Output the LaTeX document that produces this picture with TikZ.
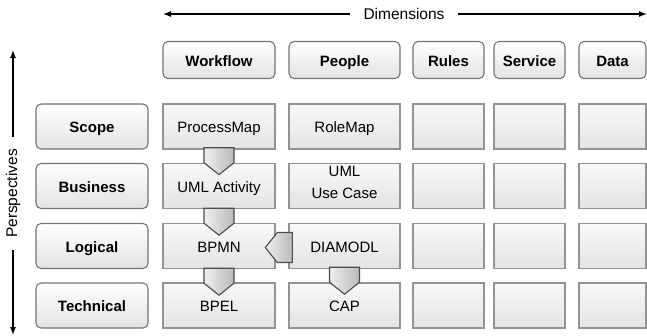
\documentclass[tikz,border=0pt]{standalone}
\usepackage{fontspec}
\setmainfont{Liberation Sans}
\usetikzlibrary{arrows.meta}
\tikzset{
  hdr/.style={draw=gray!90!black, line width=1.1pt, rounded corners=5pt,
    top color=white, bottom color=gray!22, inner sep=0pt,
    text height=14pt, text depth=1.3pt,
    minimum height=37pt, font=\fontsize{15}{18}\selectfont\bfseries},
  lbl/.style={hdr, minimum width=112pt, minimum height=45pt},
  cell/.style={draw=gray!85, line width=1.4pt, top color=gray!5,
    bottom color=gray!22, inner sep=0pt, minimum height=45pt,
    text height=14pt, text depth=1.3pt,
    align=center, font=\fontsize{15}{22}\selectfont},
  axis/.style={line width=1.3pt, -{Latex[length=8pt,width=6pt]}},
  chev/.pic={
    \draw[draw=gray!60!black, line width=1.1pt, left color=gray!12, right color=gray!55]
      (-15,0) -- (15,0) -- (15,15) -- (0,27) -- (-15,15) -- cycle;
  }
}
\begin{document}
\begin{tikzpicture}[x=1pt,y=-1pt]
\useasboundingbox (0,0) rectangle (647,335);
% axes
\node (dimlbl) [inner sep=0pt, minimum width=108pt, font=\fontsize{15.5}{18}\selectfont] at (404,14) {Dimensions};
\coordinate (dimL) at (163,14);
\coordinate (dimR) at (647,14);
\draw[axis] (dimlbl.west) -- (dimL);
\draw[axis] (dimlbl.east) -- (dimR);
\node (persp) [rotate=90, inner sep=0pt, minimum width=112pt, font=\fontsize{15.5}{18}\selectfont] at (13,193.5) {Perspectives};
\coordinate (perT) at (13,50);
\coordinate (perB) at (13,335);
\draw[axis] (persp.east) -- (perT);
\draw[axis] (persp.west) -- (perB);
% column headers
\node (wf) [hdr, minimum width=112pt] at (219,60) {Workflow};
\node (ppl) [hdr, minimum width=111pt] at (344.5,60) {People};
\node (rul) [hdr, minimum width=71pt] at (448.5,60) {Rules};
\node (svc) [hdr, minimum width=71pt] at (529.5,60) {Service};
\node (dat) [hdr, minimum width=67pt] at (612.5,60) {Data};
% row labels
\node (scp) [lbl] at (92,126.5) {Scope};
\node (bus) [lbl] at (92,186) {Business};
\node (lgc) [lbl] at (92,246) {Logical};
\node (tec) [lbl] at (92,305.5) {Technical};
% filled cells
\node (pmap) [cell, minimum width=112pt] at (219,126.5) {ProcessMap};
\node (uact) [cell, minimum width=112pt] at (219,186) {UML Activity};
\node (bpmn) [cell, minimum width=112pt] at (219,246) {BPMN};
\node (bpel) [cell, minimum width=112pt] at (219,305.5) {BPEL};
\node (rmap) [cell, minimum width=111pt] at (344.5,126.5) {RoleMap};
\node (ucase) [cell, minimum width=111pt, text height=33pt, text depth=7.3pt] at (344.5,186) {UML\\Use Case};
\node (diam) [cell, minimum width=111pt] at (344.5,246) {DIAMODL};
\node (cap) [cell, minimum width=111pt] at (344.5,305.5) {CAP};
% empty cells
\foreach \cx/\cw/\cn in {448.5/71/rul,529.5/71/svc,612.5/67/dat}
  \foreach \cy/\rn in {126.5/scp,186/bus,246/lgc,305.5/tec}
    \node (\cn-\rn) [cell, minimum width=\cw pt] at (\cx,\cy) {};
% transitions
\pic at ([yshift=2pt]pmap.south) {chev};
\pic at ([yshift=1pt]uact.south) {chev};
\pic at ([yshift=1pt]bpmn.south) {chev};
\pic at ([yshift=2pt]diam.south) {chev};
\pic[rotate=-90] at ([xshift=4pt,yshift=-1.5pt]diam.west) {chev};
\end{tikzpicture}
\end{document}
